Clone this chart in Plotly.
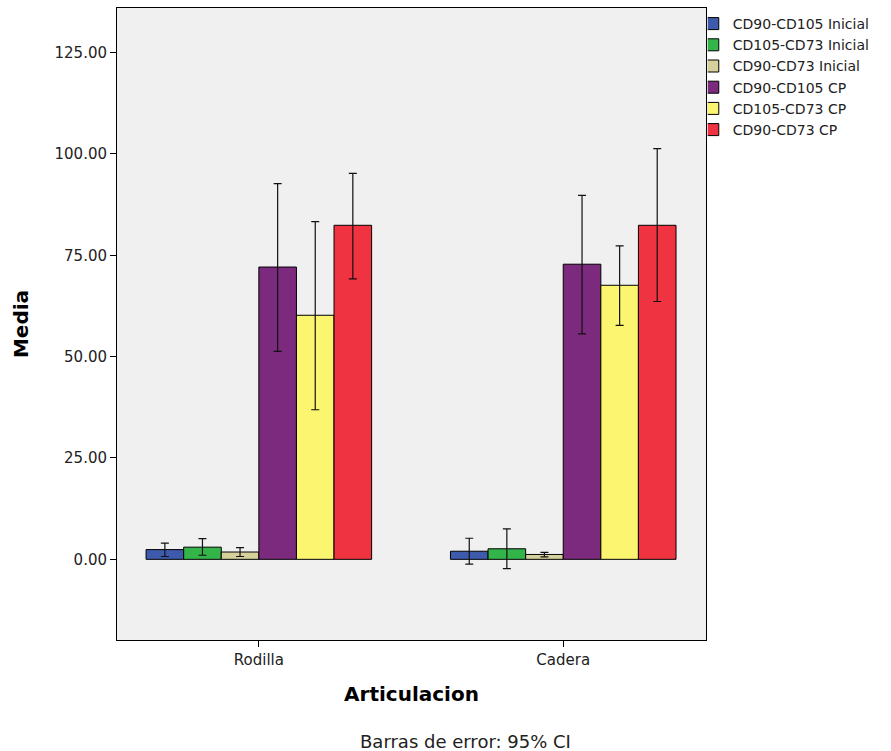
import plotly.graph_objects as go

categories = ["Rodilla", "Cadera"]
series_names = ["CD90-CD105 Inicial", "CD105-CD73 Inicial", "CD90-CD73 Inicial",
                "CD90-CD105 CP", "CD105-CD73 CP", "CD90-CD73 CP"]
series_colors = ["#3e5aad", "#33b54a", "#d6d19a", "#7b2a7e", "#fbf56f", "#ef3340"]

# means per series: [Rodilla, Cadera]
means = [
    [2.4, 2.0],
    [3.0, 2.6],
    [1.8, 1.2],
    [72.1, 72.8],
    [60.2, 67.6],
    [82.4, 82.4],
]
ci_upper = [
    [4.0, 5.2],
    [5.1, 7.5],
    [2.9, 1.7],
    [92.7, 89.8],
    [83.3, 77.3],
    [95.2, 101.3],
]
ci_lower = [
    [0.7, -1.2],
    [1.0, -2.3],
    [0.7, 0.6],
    [51.3, 55.6],
    [36.9, 57.7],
    [69.2, 63.6],
]

ytick_vals = [0, 25, 50, 75, 100, 125]

fig = go.Figure()
xpos = list(range(len(categories)))
for name, color, m, hi, lo in zip(series_names, series_colors, means, ci_upper, ci_lower):
    fig.add_trace(go.Bar(
        name=name, x=xpos, y=m,
        marker=dict(color=color, line=dict(color="black", width=1)),
        error_y=dict(type="data", symmetric=False,
                     array=[h - v for h, v in zip(hi, m)],
                     arrayminus=[v - l for l, v in zip(lo, m)],
                     color="#111111", thickness=1.2, width=4),
    ))

fig.update_layout(
    width=891, height=751,
    margin=dict(l=117, r=185, t=8, b=111),
    paper_bgcolor="white", plot_bgcolor="#f0f0f0",
    barmode="group", bargap=0.259, bargroupgap=0,
    font=dict(family="DejaVu Sans", color="#222222"),
    legend=dict(x=1.003, xanchor="left", y=1.0, yanchor="top",
                font=dict(size=14, color="#222222"), indentation=-15,
                tracegroupgap=0, bgcolor="rgba(0,0,0,0)"),
    xaxis=dict(range=[-0.466, 1.469], tickvals=xpos, ticktext=categories,
               showgrid=False, zeroline=False, showline=True, mirror=True,
               linecolor="black", linewidth=1, ticks="outside", ticklen=6,
               tickcolor="black", tickfont=dict(size=15),
               title=dict(text="<b>Articulacion</b>", font=dict(size=20, color="black"), standoff=18)),
    yaxis=dict(range=[-19.9, 136], tickvals=ytick_vals, tickformat=".2f",
               showgrid=False, zeroline=False, showline=True, mirror=True,
               linecolor="black", linewidth=1, ticks="outside", ticklen=6,
               tickcolor="black", tickfont=dict(size=15),
               title=dict(text="<b>Media</b>", font=dict(size=20, color="black"), standoff=20)),
    annotations=[dict(text="Barras de error: 95% CI", xref="paper", yref="paper",
                      x=0.592, y=-0.161, xanchor="center", yanchor="middle",
                      showarrow=False, font=dict(size=18, color="#222222"))],
)

fig.write_html("out.html")
